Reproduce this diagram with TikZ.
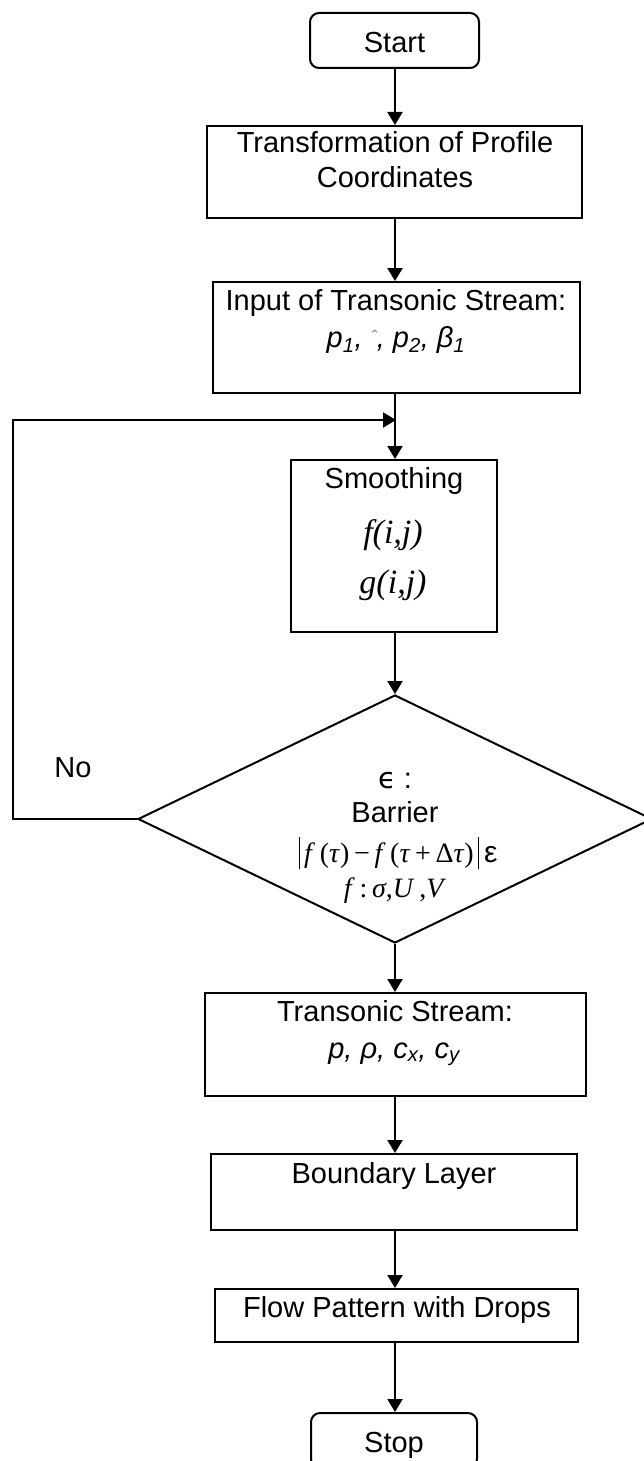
\documentclass[tikz,border=0pt]{standalone}
\usepackage{fontspec}
\setmainfont{Liberation Sans}
\newfontfamily\serifface{Liberation Serif}
\newfontfamily\dejavu{DejaVu Sans}
\usetikzlibrary{shapes.geometric,arrows.meta}

\begin{document}
\begin{tikzpicture}[x=1pt,y=-1pt,
  box/.style={draw,line width=2pt,inner sep=0pt},
  term/.style={box,rounded corners=9pt},
  txt/.style={anchor=base,inner sep=0pt,font=\fontsize{29}{35}\selectfont},
  mtxt/.style={anchor=base,inner sep=0pt,font=\serifface\fontsize{28}{32}\selectfont},
  ctxt/.style={anchor=base,inner sep=0pt,font=\serifface\itshape\fontsize{34}{38}\selectfont},
  arr/.style={line width=2pt,-{Triangle[length=13pt,width=15pt]}},
  ln/.style={line width=2.2pt}]

\useasboundingbox (0,0) rectangle (643,1461);

% boxes
\node[term,minimum width=169pt,minimum height=55pt] (start) at (394.5,40.5) {};
\node[box,minimum width=375pt,minimum height=92pt] (trans) at (394.5,172) {};
\node[box,minimum width=367pt,minimum height=111pt] (input) at (396.5,337.5) {};
\node[box,minimum width=206pt,minimum height=172pt] (smooth) at (394,546) {};
\node[box,diamond,minimum width=514pt,minimum height=248pt] (dec) at (395,819) {};
\node[box,minimum width=381pt,minimum height=103pt] (ts) at (395.5,1044.5) {};
\node[box,minimum width=366pt,minimum height=76pt] (bl) at (394,1192) {};
\node[box,minimum width=363pt,minimum height=53pt] (fp) at (396.5,1315.5) {};
\node[term,minimum width=166pt,minimum height=55pt] (stop) at (394,1440.5) {};

% texts
\node[txt] (tstart) at (394.5,53) {Start};
\node[txt] (ttrans1) at (395,152) {Transformation of Profile};
\node[txt] (ttrans2) at (395,187) {Coordinates};
\node[txt] (tinput1) at (396,310) {Input of Transonic Stream:};
\node[txt] (tinput2) at (396,347) {\itshape p\textsubscript{1}, \raisebox{4pt}{\color{gray}\fontsize{18}{20}\selectfont ˆ}, p\textsubscript{2}, β\textsubscript{1}};
\node[txt] (tsmooth) at (394,488) {Smoothing};
\node[ctxt] (tf) at (393,543) {f(i,j)};
\node[ctxt] (tg) at (393,593) {g(i,j)};
\node[txt] (teps) at (395,788) {{\dejavu ϵ} :};
\node[txt] (tbarrier) at (395,822) {Barrier};
\node[mtxt] (tform) at (398,862) {\rule[-7pt]{1pt}{32pt}\,\textit{f}\,(\textit{τ})\,−\,\textit{f}\,(\textit{τ}\,+\,Δ\textit{τ})\,\rule[-7pt]{1pt}{32pt}\,{\fontspec{Liberation Sans}\fontsize{30}{36}\selectfont ε}};
\node[mtxt] (tfs) at (395,897) {\textit{f}\,:\,\textit{σ},\textit{U}\,,\textit{V}};
\node[txt] (tno) at (73,777) {No};
\node[txt] (tts1) at (395,1021) {Transonic Stream:};
\node[txt] (tts2) at (394,1058) {\itshape p, ρ, c\textsubscript{x}, c\textsubscript{y}};
\node[txt] (tbl) at (394,1183) {Boundary Layer};
\node[txt] (tfp) at (397,1317) {Flow Pattern with Drops};
\node[txt] (tstop) at (394,1452) {Stop};

% main flow
\coordinate (axis) at (395,0);
\draw[arr] (start.south -| axis) -- (trans.north -| axis);
\draw[arr] (trans.south -| axis) -- (input.north -| axis);
\draw[arr] (input.south -| axis) -- (smooth.north -| axis);
\draw[arr] (smooth.south -| axis) -- (dec.north);
\draw[arr] (dec.south) -- (ts.north -| axis);
\draw[arr] (ts.south -| axis) -- (bl.north -| axis);
\draw[arr] (bl.south -| axis) -- (fp.north -| axis);
\draw[arr] (fp.south -| axis) -- (stop.north -| axis);

% feedback loop
\coordinate (loopbot) at (13,819);
\coordinate (looptop) at (13,420);
\coordinate (merge) at (396,420);
\draw[ln,line cap=rect] (dec.west) -- (loopbot) -- (looptop);
\draw[ln,-{Triangle[length=13pt,width=15pt]}] (looptop) -- (merge);
\end{tikzpicture}
\end{document}
